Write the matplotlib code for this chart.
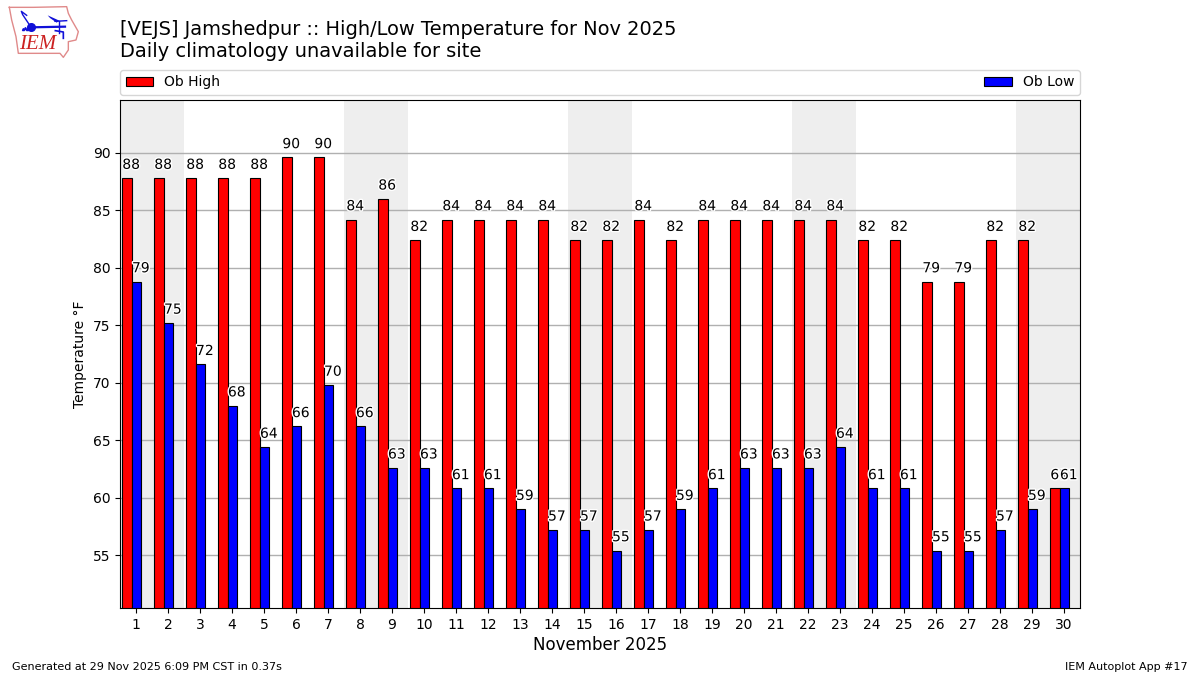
import matplotlib
matplotlib.use("Agg")
import matplotlib.pyplot as plt
import matplotlib.patheffects as pe

days = list(range(1, 31))
highs = [87.8, 87.8, 87.8, 87.8, 87.8, 89.6, 89.6, 84.2, 86.0, 82.4,
         84.2, 84.2, 84.2, 84.2, 82.4, 82.4, 84.2, 82.4, 84.2, 84.2,
         84.2, 84.2, 84.2, 82.4, 82.4, 78.8, 78.8, 82.4, 82.4, 60.8]
lows = [78.8, 75.2, 71.6, 68.0, 64.4, 66.2, 69.8, 66.2, 62.6, 62.6,
        60.8, 60.8, 59.0, 57.2, 57.2, 55.4, 57.2, 59.0, 60.8, 62.6,
        62.6, 62.6, 64.4, 60.8, 60.8, 55.4, 55.4, 57.2, 59.0, 60.8]
weekend_starts = [1, 8, 15, 22, 29]
title_lines = ["[VEJS] Jamshedpur :: High/Low Temperature for Nov 2025",
               "Daily climatology unavailable for site"]
y_ticks = [55, 60, 65, 70, 75, 80, 85, 90]

W = 0.3
fig = plt.figure(figsize=(12, 6.75), dpi=100)
ax = fig.add_axes([120 / 1200, 1 - 608 / 675, 960 / 1200, 508 / 675])

for s in weekend_starts:
    ax.axvspan(s - 0.5, min(s + 1.5, 30.5), color="#eeeeee", lw=0, zorder=0)
ax.grid(axis="y", color="#b0b0b0", lw=1, zorder=1)
ax.set_axisbelow(True)

h_x = [d - 0.28 for d in days]
l_x = [d + 0.02 for d in days]
ax.bar(h_x, highs, W, color="#ff0000", edgecolor="black", lw=0.8, label="Ob High", zorder=2)
ax.bar(l_x, lows, W, color="#0000ff", edgecolor="black", lw=0.8, label="Ob Low", zorder=2)

halo = [pe.withStroke(linewidth=2, foreground="white")]
for d, v in zip(days, highs):
    ax.text(d - 0.15, v + 0.55, f"{v:.0f}", ha="center", va="bottom", fontsize=10,
            zorder=3, path_effects=halo)
for d, v in zip(days, lows):
    ax.text(d + 0.15, v + 0.55, f"{v:.0f}", ha="center", va="bottom", fontsize=10,
            zorder=3, path_effects=halo)

ax.set_xlim(0.5, 30.5)
ax.set_ylim(50.4, 94.6)
ax.set_xticks(days)
ax.set_yticks(y_ticks)
ax.tick_params(labelsize=10)
ax.set_ylabel("Temperature °F", fontsize=10)
ax.set_xlabel("November 2025", fontsize=12, labelpad=3)
ax.legend(loc="lower left", bbox_to_anchor=(0, 1.0098, 1, 0.05), mode="expand", ncol=2,
          fontsize=10, borderaxespad=0)

fig.text(120 / 1200, 1 - 29.5 / 675, title_lines[0], fontsize=13.97, va="center")
fig.text(120 / 1200, 1 - 51.5 / 675, title_lines[1], fontsize=13.97, va="center")
fig.text(12 / 1200, 1 - 667 / 675, "Generated at 29 Nov 2025 6:09 PM CST in 0.37s", fontsize=8, va="center")
fig.text(1188 / 1200, 1 - 667 / 675, "IEM Autoplot App #17", fontsize=8, va="center", ha="right")

# IEM logo drawn in zoomed-crop coordinates
logo = fig.add_axes([0, 1 - 200 / 675, 220 / 1200, 200 / 675], zorder=-1)
logo.set_xlim(0, 660)
logo.set_ylim(600, 0)
logo.axis("off")
logo.plot([28, 100, 200, 205, 215, 235, 228, 205, 205, 190, 180, 55, 48, 35, 28],
          [22, 22, 20, 40, 60, 95, 120, 125, 150, 172, 160, 160, 110, 60, 22],
          color="#e08a8a", lw=1)
logo.plot([92, 195], [82, 80], color="#1010d8", lw=1.6)
logo.plot([93], [81], "o", color="#1010d8", ms=5.5)
logo.plot([92, 68, 64, 80], [80, 44, 34, 46], color="#1010d8", lw=1)
logo.fill([143, 178, 170, 150], [46, 62, 68, 54], color="#1010d8", lw=0)
logo.plot([165, 200], [64, 62], color="#1010d8", lw=1)
logo.plot([178, 178], [62, 100], color="#1010d8", lw=1)
logo.plot([166, 190, 190], [92, 96, 115], color="#1010d8", lw=1.2)
logo.plot([68, 74, 80], [88, 84, 88], "^", color="#1010d8", ms=1.5)
logo.text(112, 134, "IEM", color="#cc2222", family="Liberation Serif", style="italic",
          fontsize=15, ha="center", va="center")

fig.savefig("out.png", dpi=100)
